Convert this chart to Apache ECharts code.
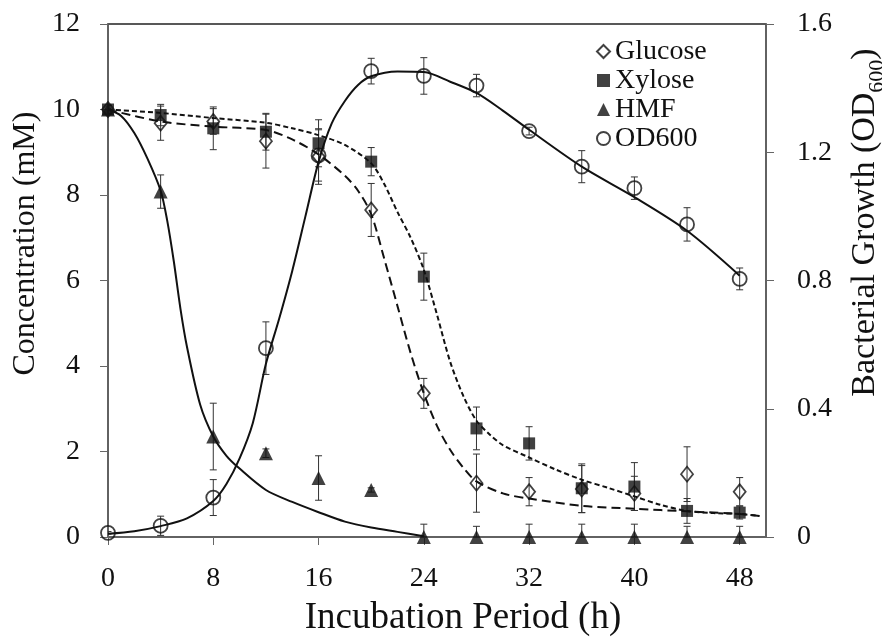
<!DOCTYPE html>
<html>
<head>
<meta charset="utf-8">
<script src="https://cdn.jsdelivr.net/npm/echarts@6/dist/echarts.min.js"></script>
<style>
html,body{margin:0;padding:0;background:#fff;}
#chart{width:882px;height:638px;}
</style>
</head>
<body>
<div id="chart"></div>
<script>
// ---- data ----
const xTicks = [0, 8, 16, 24, 32, 40, 48];
const hours = [0, 4, 8, 12, 16, 20, 24, 28, 32, 36, 40, 44, 48];

const glucose    = [10, 9.68, 9.72, 9.26, 8.9, 7.65, 3.36, 1.26, 1.06, 1.12, 1.02, 1.47, 1.06];
const glucoseErr = [0.1, 0.4, 0.3, 0.63, 0.65, 0.62, 0.35, 0.68, 0.33, 0.55, 0.4, 0.64, 0.33];
const xylose     = [10, 9.87, 9.56, 9.48, 9.21, 8.78, 6.09, 2.54, 2.19, 1.14, 1.18, 0.61, 0.57];
const xyloseErr  = [0.1, 0.25, 0.5, 0.43, 0.55, 0.33, 0.55, 0.5, 0.39, 0.57, 0.56, 0.29, 0.15];
const hmf        = [10, 8.08, 2.35, 1.96, 1.38, 1.1, 0, 0, 0, 0, 0, 0, 0];
const hmfErr     = [0.1, 0.39, 0.78, 0.1, 0.52, 0.05, 0.3, 0.25, 0.3, 0.3, 0.3, 0.25, 0.25];
const od600      = [0.013, 0.035, 0.123, 0.589, 1.19, 1.453, 1.438, 1.408, 1.266, 1.155, 1.088, 0.975, 0.805];
const od600Err   = [0.004, 0.03, 0.056, 0.082, 0.08, 0.04, 0.057, 0.035, 0.012, 0.05, 0.035, 0.052, 0.034];

// fitted curves
const hmfCurveX = [0, 1, 2, 3, 4, 4.5, 5, 5.5, 6, 7, 8, 9, 10, 12, 14, 16, 18, 20, 22, 24];
const hmfCurveY = [10, 9.85, 9.45, 8.85, 8.1, 7.4, 6.45, 5.35, 4.45, 3.1, 2.35, 1.9, 1.6, 1.1, 0.82, 0.58, 0.36, 0.22, 0.12, 0.02];
const odCurveX  = [0, 2, 4, 6, 8, 9, 10, 11, 12, 13, 14, 15, 16, 17, 18, 19, 20, 22, 24, 26, 28, 30, 32, 36, 40, 44, 48];
const odCurveY  = [0.01, 0.018, 0.034, 0.058, 0.112, 0.165, 0.245, 0.355, 0.54, 0.68, 0.83, 1.0, 1.17, 1.29, 1.36, 1.41, 1.437, 1.452, 1.45, 1.42, 1.385, 1.33, 1.27, 1.155, 1.06, 0.955, 0.815];
const glucoseCurveX = [0, 4, 8, 12, 14, 16, 18, 19, 20, 21, 22, 23, 24, 25, 26, 27, 28, 30, 32, 36, 40, 44, 48, 49.5];
const glucoseCurveY = [10, 9.72, 9.6, 9.52, 9.3, 8.95, 8.45, 8.1, 7.55, 6.5, 5.4, 4.3, 3.36, 2.6, 2.04, 1.62, 1.3, 1.02, 0.9, 0.73, 0.66, 0.6, 0.54, 0.49];
const xyloseCurveX = [0, 4, 8, 12, 14, 16, 18, 20, 21, 22, 23, 24, 25, 26, 27, 28, 29, 30, 32, 34, 36, 38, 40, 42, 44, 46, 48, 49.5];
const xyloseCurveY = [10, 9.92, 9.8, 9.69, 9.56, 9.4, 9.17, 8.74, 8.25, 7.6, 7.0, 6.25, 5.2, 4.1, 3.3, 2.72, 2.4, 2.15, 1.86, 1.58, 1.34, 1.15, 0.95, 0.75, 0.61, 0.56, 0.54, 0.49];

// ---- build chart ----
const FONT = 'Liberation Serif';
const pairs = (xs, ys) => xs.map((x, i) => [x, ys[i]]);
const errData = (vals, errs) => hours.map((h, i) => [h, vals[i] - errs[i], vals[i] + errs[i]]);

function errRender(params, api) {
  const x = api.value(0), lo = api.value(1), hi = api.value(2);
  const p1 = api.coord([x, hi]);
  const p2 = api.coord([x, lo]);
  const w = 3.5;
  const st = { stroke: '#333', lineWidth: 1 };
  return {
    type: 'group',
    children: [
      { type: 'line', shape: { x1: p1[0], y1: p1[1], x2: p2[0], y2: p2[1] }, style: st },
      { type: 'line', shape: { x1: p1[0] - w, y1: p1[1], x2: p1[0] + w, y2: p1[1] }, style: st },
      { type: 'line', shape: { x1: p2[0] - w, y1: p2[1], x2: p2[0] + w, y2: p2[1] }, style: st }
    ]
  };
}
function errSeries(vals, errs, yIdx) {
  return {
    type: 'custom', yAxisIndex: yIdx, renderItem: errRender, clip: true, z: 1,
    encode: { x: 0, y: [1, 2] }, data: errData(vals, errs), silent: true
  };
}
function curve(xs, ys, yIdx, dash) {
  return {
    type: 'line', yAxisIndex: yIdx, data: pairs(xs, ys), showSymbol: false, symbol: 'none',
    smooth: 0.3, z: 2, silent: true,
    lineStyle: { color: '#111', width: 2, type: dash || 'solid' }
  };
}
const openStyle = { color: 'rgba(255,255,255,0)', borderColor: '#111', borderWidth: 1.8 };
const fillStyle = { color: '#111', borderColor: '#111', borderWidth: 0 };

const option = {
  animation: false,
  backgroundColor: '#fff',
  textStyle: { fontFamily: FONT, color: '#111' },
  grid: { left: 108, right: 116, top: 24, bottom: 101, outerBoundsMode: 'none', containLabel: false,
          show: true, borderColor: '#222', borderWidth: 1.5, backgroundColor: 'transparent' },
  legend: {
    orient: 'vertical', left: 591, top: 32, itemGap: 0, itemWidth: 13, itemHeight: 13,
    textStyle: { fontFamily: FONT, fontSize: 28, color: '#111', lineHeight: 29 },
    data: ['Glucose', 'Xylose', 'HMF', 'OD600']
  },
  xAxis: {
    type: 'value', min: 0, max: 50, interval: 8,
    name: 'Incubation Period (h)', nameLocation: 'middle', nameGap: 63,
    nameTextStyle: { fontFamily: FONT, fontSize: 37, color: '#111', padding: [0, 0, 0, 52] },
    axisLine: { show: true, lineStyle: { color: '#666', width: 1.5 } },
    axisTick: { show: true, length: 8, lineStyle: { color: '#666' }, customValues: xTicks },
    axisLabel: { fontFamily: FONT, fontSize: 28, color: '#111', margin: 28, customValues: xTicks },
    splitLine: { show: false }
  },
  yAxis: [
    {
      type: 'value', min: 0, max: 12, interval: 2, position: 'left',
      name: 'Concentration (mM)', nameLocation: 'middle', nameGap: 61,
      nameTextStyle: { fontFamily: FONT, fontSize: 32, color: '#111', padding: [0, 0, 0, 74] },
      axisLine: { show: true, lineStyle: { color: '#666', width: 1.5 } },
      axisTick: { show: true, length: 8, lineStyle: { color: '#666' } },
      axisLabel: { fontFamily: FONT, fontSize: 28, color: '#111', margin: 28 },
      splitLine: { show: false }
    },
    {
      type: 'value', min: 0, max: 1.6, interval: 0.4, position: 'right',
      name: '{a|Bacterial Growth (OD}{b|600}{a|)}', nameLocation: 'middle', nameGap: 76,
      nameTextStyle: {
        fontFamily: FONT, fontSize: 34, color: '#111', padding: [0, 0, 0, 116],
        rich: {
          a: { fontFamily: FONT, fontSize: 34, color: '#111', verticalAlign: 'bottom', lineHeight: 40 },
          b: { fontFamily: FONT, fontSize: 22, color: '#111', verticalAlign: 'bottom', lineHeight: 40, padding: [0, 0, -6, 0] }
        }
      },
      axisLine: { show: true, lineStyle: { color: '#666', width: 1.5 } },
      axisTick: { show: true, length: 8, lineStyle: { color: '#666' } },
      axisLabel: { fontFamily: FONT, fontSize: 28, color: '#111', margin: 31 },
      splitLine: { show: false }
    }
  ],
  series: [
    errSeries(glucose, glucoseErr, 0),
    errSeries(xylose, xyloseErr, 0),
    errSeries(hmf, hmfErr, 0),
    errSeries(od600, od600Err, 1),
    curve(hmfCurveX, hmfCurveY, 0),
    curve(odCurveX, odCurveY, 1),
    curve(glucoseCurveX, glucoseCurveY, 0, [9, 5]),
    curve(xyloseCurveX, xyloseCurveY, 0, [5, 3]),
    { name: 'Glucose', type: 'scatter', yAxisIndex: 0, symbol: 'diamond', symbolSize: [12, 15], z: 3,
      data: pairs(hours, glucose), itemStyle: openStyle },
    { name: 'Xylose', type: 'scatter', yAxisIndex: 0, symbol: 'rect', symbolSize: 12, z: 3,
      data: pairs(hours, xylose), itemStyle: fillStyle },
    { name: 'HMF', type: 'scatter', yAxisIndex: 0, symbol: 'triangle', symbolSize: 14, z: 3,
      data: pairs(hours, hmf), itemStyle: fillStyle },
    { name: 'OD600', type: 'scatter', yAxisIndex: 1, symbol: 'circle', symbolSize: 14, z: 3,
      data: pairs(hours, od600), itemStyle: openStyle }
  ]
};
const chart = echarts.init(document.getElementById('chart'), null, { renderer: 'canvas' });
chart.setOption(option);
</script>
</body>
</html>
